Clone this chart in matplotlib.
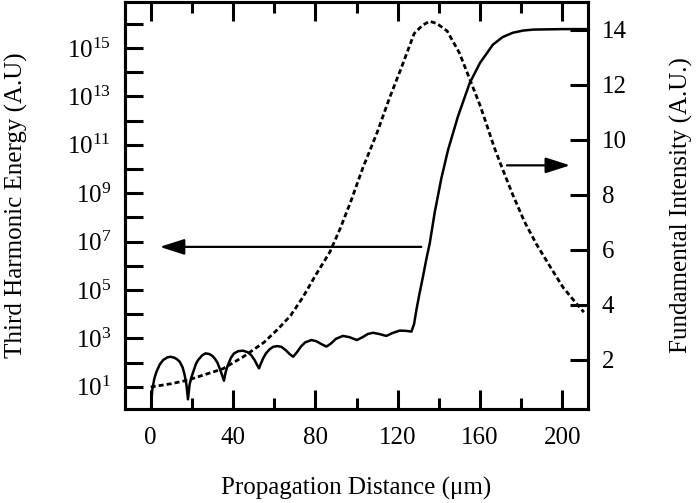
import numpy as np
import matplotlib
matplotlib.use("Agg")
import matplotlib.pyplot as plt
from matplotlib.ticker import FixedLocator, FuncFormatter, MultipleLocator, NullLocator

plt.rcParams['font.family'] = ['Liberation Serif', 'DejaVu Serif']
plt.rcParams['mathtext.fontset'] = 'custom'
plt.rcParams['mathtext.rm'] = 'Liberation Serif'
plt.rcParams['mathtext.it'] = 'Liberation Serif:italic'
plt.rcParams['lines.scale_dashes'] = False

# third harmonic energy (solid, left log axis) - stored as log10 exponents
th_x = [0.0, 0.3, 0.8, 1.8, 2.8, 4.4, 6.0, 8.0, 9.5, 11.5, 13.0, 14.1, 15.5, 16.5, 17.4, 18.1,
        18.9, 19.8, 20.6, 22.0, 23.0, 25.0, 26.7, 28.5, 30.0, 31.1, 32.4, 33.5, 34.6, 35.6,
        36.4, 37.3, 39.0, 40.5, 42.5, 44.8, 47.0, 48.8, 50.5, 51.7, 52.6,
        53.5, 54.6, 56.0, 57.8, 59.5, 61.5, 63.5, 65.5, 67.5, 69.2,
        71.0, 73.0, 75.0, 78.1, 80.5, 83.0, 85.4, 87.5, 90.0, 93.4, 96.5, 100.2,
        103.0, 105.5, 108.0, 111.0, 114.5, 117.5, 121.0, 124.0, 126.7,
        128.0, 129.1, 130.5, 132.3, 134.0, 135.6, 138.0, 141.2, 144.5, 149.3, 155.0,
        160.0, 166.3, 171.0, 176.0, 181.0, 186.0, 200.0, 212.0]
th_exp = [-0.5, 0.4, 0.9, 1.35, 1.62, 1.92, 2.1, 2.21, 2.24, 2.2, 2.12, 2.03, 1.8, 1.48, 1.05, 0.48,
          1.1, 1.4, 1.6, 1.95, 2.1, 2.3, 2.38, 2.35, 2.27, 2.17, 2.0, 1.76, 1.5, 1.25,
          1.6, 1.85, 2.2, 2.38, 2.47, 2.49, 2.43, 2.31, 2.1, 1.9, 1.76,
          1.95, 2.17, 2.38, 2.55, 2.65, 2.68, 2.65, 2.52, 2.35, 2.24,
          2.42, 2.66, 2.83, 2.93, 2.88, 2.76, 2.66, 2.78, 2.98, 3.10, 3.05, 2.93,
          3.05, 3.18, 3.23, 3.18, 3.10, 3.22, 3.32, 3.31, 3.28,
          3.6, 4.17, 4.8, 5.55, 6.3, 6.93, 8.2, 9.6, 10.79, 12.17, 13.55,
          14.38, 15.14, 15.45, 15.63, 15.72, 15.76, 15.78, 15.78]

# fundamental intensity (dashed, right axis)
fi_x = [0, 10, 18, 25, 35, 45, 55, 62, 68, 74, 80, 87, 92, 97, 103, 110, 116, 122, 128, 132,
        135.5, 139, 144, 150, 155, 160, 162.3, 167, 171, 176, 181.7, 187.4, 193.9, 200.4,
        206.9, 210.5]
fi_val = [1.0, 1.12, 1.25, 1.42, 1.66, 2.1, 2.62, 3.12, 3.6, 4.27, 5.05, 5.9, 6.75, 7.7, 8.95,
          10.25, 11.5, 12.65, 13.85, 14.15, 14.3, 14.22, 13.95, 13.15, 12.2, 11.25, 10.75,
          9.7, 8.92, 7.98, 7.0, 6.2, 5.4, 4.62, 4.03, 3.72]

fig = plt.figure(figsize=(6.96, 5.03), dpi=100)
ax = fig.add_axes([125/696, 94/503, 463/696, 407/503])
ax2 = ax.twinx()

ax.plot(th_x, 10.0**np.array(th_exp), color='black', lw=1.8, solid_capstyle='butt')
ax2.plot(fi_x, fi_val, color='black', lw=2.0, linestyle=(0, (3.6, 2.2)))

ax.set_yscale('log')
ax.set_xlim(-12.5, 212.5)
ax.set_ylim(10**0.08, 10**16.9)
ax2.set_ylim(0.2, 15.0)

ax.xaxis.set_major_locator(MultipleLocator(40))
ax.xaxis.set_minor_locator(MultipleLocator(20))
ax.yaxis.set_major_locator(FixedLocator([10.0**k for k in range(0, 18)]))
ax.yaxis.set_minor_locator(NullLocator())
ax.yaxis.set_major_formatter(FuncFormatter(
    lambda v, p: r'$10^{%d}$' % round(np.log10(v)) if round(np.log10(v)) % 2 == 1 else ''))
ax2.set_yticks([2, 4, 6, 8, 10, 12, 14])

for a in (ax, ax2):
    for s in a.spines.values():
        s.set_linewidth(2.2)

ax.tick_params(axis='x', which='major', direction='in', top=True, length=14, width=2.2,
               pad=13, labelsize=18)
ax.tick_params(axis='x', which='minor', direction='in', top=True, length=8, width=2.2)
ax.tick_params(axis='y', direction='in', left=True, right=False, length=13, width=2.2,
               pad=10, labelsize=18)
ax2.tick_params(axis='y', direction='in', right=True, length=13, width=2.2, pad=10,
                labelsize=18)

ax.set_xlabel('Propagation Distance (\u03bcm)', fontsize=18)
ax.set_ylabel('Third Harmonic Energy (A.U)', fontsize=18)
ax2.set_ylabel('Fundamental Intensity (A.U.)', fontsize=18)
ax.xaxis.set_label_coords(0.5, -0.167)
ax.yaxis.set_label_coords(-0.21, 0.5)
ax2.yaxis.set_label_coords(1.177, 0.5)

ax.annotate('', xy=(4.4, 10**6.78), xytext=(131.5, 10**6.78),
            arrowprops=dict(arrowstyle='-|>,head_length=1.0,head_width=0.32',
                            mutation_scale=15, lw=1.6, color='black',
                            shrinkA=0, shrinkB=0))
ax2.annotate('', xy=(203.8, 9.06), xytext=(173.1, 9.06),
             arrowprops=dict(arrowstyle='-|>,head_length=1.0,head_width=0.32',
                             mutation_scale=15, lw=1.6, color='black',
                             shrinkA=0, shrinkB=0))

fig.savefig('out.png', dpi=100)
